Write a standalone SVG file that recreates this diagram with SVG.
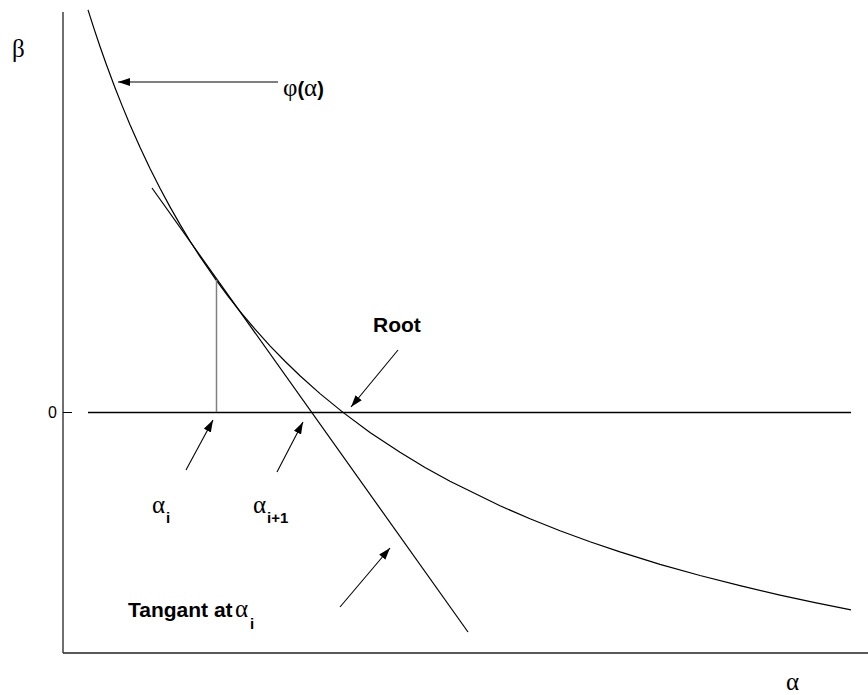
<svg xmlns="http://www.w3.org/2000/svg" width="868" height="695" viewBox="0 0 868 695">
<style>
.ln{fill:none;stroke:#000;stroke-width:1.2}
.ax{fill:none;stroke:#222;stroke-width:1.3}
.gr{font-family:"Liberation Serif","DejaVu Serif",serif;font-size:25px;fill:#000}
.sb{font-family:"Liberation Sans",Arial,sans-serif;font-weight:bold;fill:#000}
.sn{font-family:"Liberation Sans",Arial,sans-serif;fill:#000}
.arr{fill:none;stroke:#000;stroke-width:1.1;marker-end:url(#ah)}
</style>
<defs>
<marker id="ah" markerUnits="userSpaceOnUse" markerWidth="13" markerHeight="9" refX="12" refY="4" orient="auto">
<path d="M0,0 L12,4 L0,8 z" fill="#000"/>
</marker>
</defs>
<rect width="868" height="695" fill="#fff"/>
<g id="axes">
<line class="ax" x1="63" y1="12" x2="63" y2="653"/>
<line class="ax" x1="63" y1="653" x2="868" y2="653"/>
<line x1="63" y1="412.5" x2="72" y2="412.5" stroke="#000" stroke-width="1"/>
<line x1="88" y1="412.5" x2="851" y2="412.5" stroke="#000" stroke-width="1.3"/>
<text class="gr" x="12" y="57" font-size="22">β</text>
<text class="sn" x="48" y="418" font-size="16">0</text>
<text class="gr" x="786" y="690">α</text>
</g>
<g id="curve">
<polyline class="ln" points="88,9.9 94,28.6 100,46.5 106,63.5 115,87.7 122,105.4 130,124.7 140,147.3 150,168.4 160,188.3 170,206.9 180,224.4 190,241 200,256.6 216,279.9 228,296.1 240,311.4 255,329.2 270,345.8 285,361.2 300,375.7 320,393.6 343,412.4 370,432.4 400,452.3 425,467.4 450,481.3 500,505.8 530,518.8 560,530.8 590,541.8 620,551.9 660,564.3 700,575.5 740,585.7 780,595.1 815,602.7 851,609.9"/>
</g>
<g id="tangent">
<line class="ln" x1="152" y1="188" x2="468" y2="632"/>
<line x1="216.5" y1="280" x2="216.5" y2="412" stroke="#808080" stroke-width="1.5"/>
</g>
<g id="connectors">
<line class="arr" x1="278" y1="82" x2="118" y2="82"/>
<line class="arr" x1="398" y1="350" x2="351" y2="407"/>
<line class="arr" x1="186" y1="470" x2="213" y2="420"/>
<line class="arr" x1="277" y1="472" x2="303" y2="422"/>
<line class="arr" x1="340" y1="607" x2="390" y2="548"/>
</g>
<g id="label-phi">
<text x="283" y="96"><tspan class="gr" font-size="24">φ</tspan><tspan class="sb" font-size="20">(</tspan><tspan class="gr" font-size="24">α</tspan><tspan class="sb" font-size="20">)</tspan></text>
</g>
<g id="label-root">
<text class="sb" x="373" y="332" font-size="21">Root</text>
</g>
<g id="label-alpha-i">
<text class="gr" x="152" y="513">α</text>
<text class="sb" x="166" y="523" font-size="15">i</text>
</g>
<g id="label-alpha-i1">
<text class="gr" x="253" y="513">α</text>
<text class="sb" x="267" y="523" font-size="15">i+1</text>
</g>
<g id="label-tangent">
<text class="sb" x="128" y="617" font-size="21">Tangant at</text>
<text class="gr" x="235" y="617">α</text>
<text class="sb" x="250" y="629" font-size="15">i</text>
</g>
</svg>
